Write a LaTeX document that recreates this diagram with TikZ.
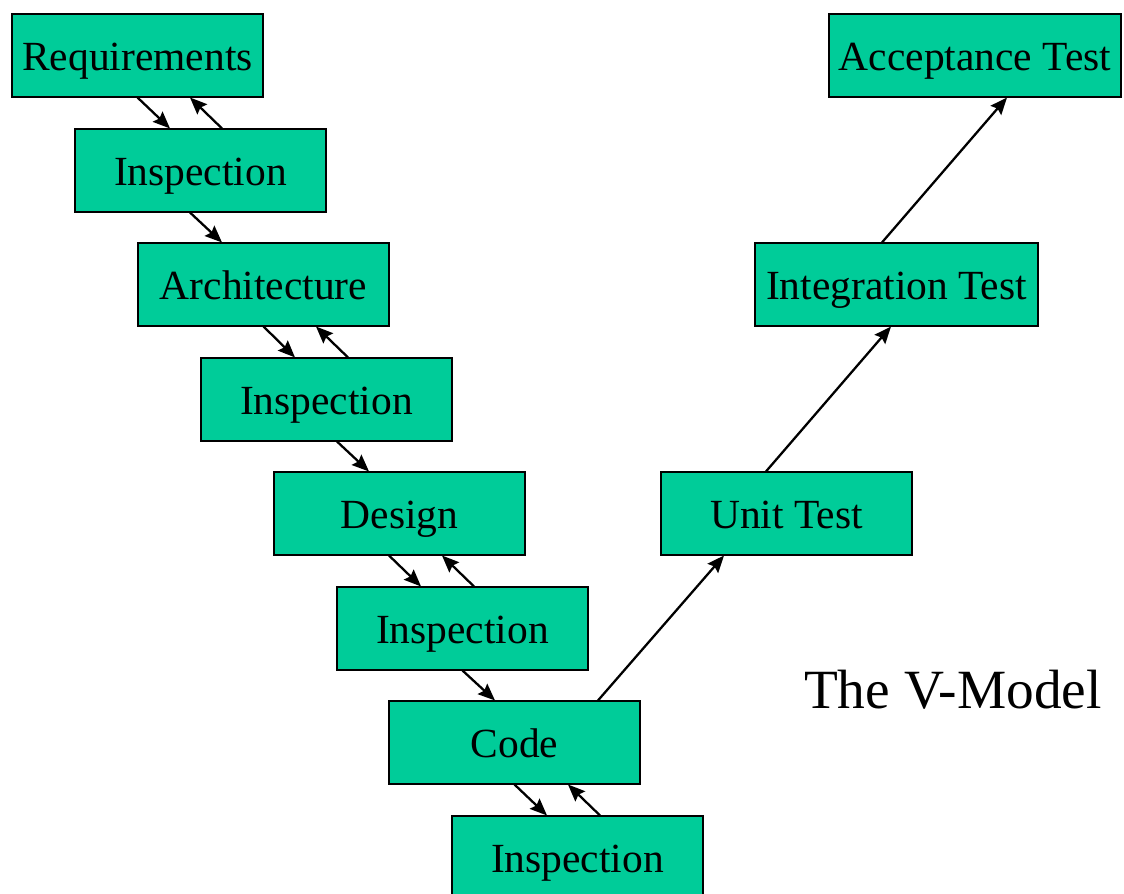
\documentclass[tikz,border=0pt]{standalone}
\usepackage{fontspec}
\setmainfont{Liberation Serif}
\usepackage{tikz}
\usepackage{color}
\usetikzlibrary{shapes.geometric, arrows.meta}
\definecolor{vgreen}{RGB}{0,204,153}
\tikzstyle{phase} = [rectangle, draw=black, line width=0.6pt, fill=vgreen, minimum width=5.02cm, minimum height=1.66cm, inner sep=0pt, text height=1.13cm, text depth=0.53cm, text centered, font=\fontsize{23.6}{28}\selectfont]
\tikzstyle{arrow} = [line width=1.3pt,-{Stealth[length=0.34cm,width=0.28cm,inset=0.05cm]}]

\begin{document}
\begin{tikzpicture}
\useasboundingbox (0,0) rectangle (22.48,17.88);

% left branch of the V
\node (req) [phase] at (2.75,16.77) {Requirements};
\node (insp1) [phase] at (4.01,14.47) {Inspection};
\node (arch) [phase] at (5.27,12.19) {Architecture};
\node (insp2) [phase] at (6.53,9.89) {Inspection};
\node (design) [phase] at (7.99,7.61) {Design};
\node (insp3) [phase] at (9.25,5.31) {Inspection};
\node (code) [phase] at (10.29,3.03) {Code};
\node (insp4) [phase] at (11.55,0.73) {Inspection};

% right branch of the V
\node (unit) [phase] at (15.73,7.61) {Unit Test};
\node (integ) [phase, minimum width=5.66cm] at (17.93,12.19) {Integration Test};
\node (accept) [phase, minimum width=5.84cm] at (19.5,16.77) {Acceptance Test};

\node (title) at (19.06,4.08) [font=\fontsize{31.5}{36}\selectfont] {The V-Model};

% downward steps and feedback
\draw [arrow] (req.south) -- ([xshift=-0.61cm]insp1.north);
\draw [arrow] ([xshift=0.43cm]insp1.north) -- ([xshift=1.05cm]req.south);
\draw [arrow] ([xshift=-0.21cm]insp1.south) -- ([xshift=-0.83cm]arch.north);
\draw [arrow] (arch.south) -- ([xshift=-0.63cm]insp2.north);
\draw [arrow] ([xshift=0.43cm]insp2.north) -- ([xshift=1.05cm]arch.south);
\draw [arrow] ([xshift=0.21cm]insp2.south) -- ([xshift=-0.61cm]design.north);
\draw [arrow] ([xshift=-0.21cm]design.south) -- ([xshift=-0.83cm]insp3.north);
\draw [arrow] ([xshift=0.23cm]insp3.north) -- ([xshift=0.85cm]design.south);
\draw [arrow] (insp3.south) -- ([xshift=-0.39cm]code.north);
\draw [arrow] (code.south) -- ([xshift=-0.61cm]insp4.north);
\draw [arrow] ([xshift=0.45cm]insp4.north) -- ([xshift=1.07cm]code.south);

% upward steps
\draw [arrow] ([xshift=1.67cm]code.north) -- ([xshift=-1.25cm]unit.south);
\draw [arrow] ([xshift=-0.41cm]unit.north) -- ([xshift=-0.11cm]integ.south);
\draw [arrow] ([xshift=-0.29cm]integ.north) -- ([xshift=0.64cm]accept.south);
\end{tikzpicture}
\end{document}
